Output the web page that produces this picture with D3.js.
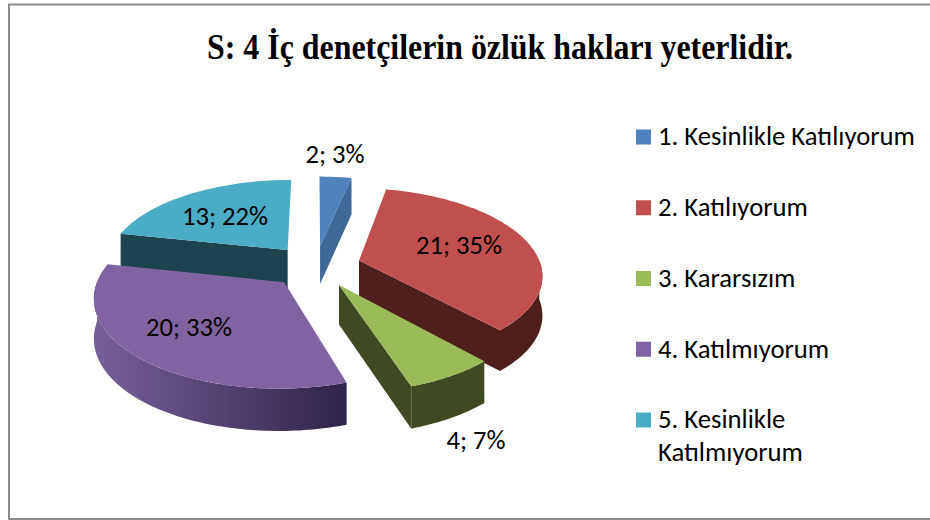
<!DOCTYPE html>
<html><head><meta charset="utf-8">
<script src="https://cdn.jsdelivr.net/npm/d3@7/dist/d3.min.js"></script>
<style>html,body{margin:0;padding:0;background:#fff}svg{display:block}</style>
</head><body><svg id="c" width="930" height="520"></svg>
<script>
const titleText = "S: 4 İç denetçilerin özlük hakları yeterlidir.";
const categories = ["1. Kesinlikle Katılıyorum","2. Katılıyorum","3. Kararsızım","4. Katılmıyorum","5. Kesinlikle Katılmıyorum"];
const values = [2,21,4,20,13];
const percents = [3,35,7,33,22];
const topColors = ["#4f81bd","#c0504d","#9bbb59","#8064a2","#4bacc6"];
const wallLight = ["#3f6997","#4f1f1e","#404a22","#76609a","#1e4350"];
const wallDark  = ["#3f6997","#4f1f1e","#404a22","#30244a","#1e4350"];

const svg = d3.select("#c");
const color = d3.scaleOrdinal().domain(categories).range(topColors);
svg.append("rect").attr("x",9).attr("y",4.5).attr("width",940).attr("height",514.5)
   .attr("fill","#fff").attr("stroke","#8a8a8a").attr("stroke-width",2);
svg.append("text").attr("x",500).attr("y",59).attr("text-anchor","middle")
   .attr("font-family","Liberation Serif").attr("font-weight","bold").attr("font-size",36)
   .attr("textLength",586).attr("lengthAdjust","spacingAndGlyphs").text(titleText);

// projection of the tilted disc
const cx=315.5, cy=266, R=182, r=85, k=0.15, ex=0.25, depth=39;
function proj(X,Z,h){
  const s=1/(1-k*Z);
  return [cx+R*X*s, cy+r*Z*s+h*depth*(1+(s-1)*0.4)];
}
const pie = d3.pie().sort(null).value(d=>d);
const arcs = pie(values);
const line = d3.line();
const defs = svg.append("defs");

function sampled(a0,a1,ox,oz,h){
  const n=Math.max(2,Math.ceil(Math.abs(a1-a0)/0.02));
  return d3.range(n+1).map(i=>{const t=a0+(a1-a0)*i/n;return proj(ox+Math.sin(t),oz-Math.cos(t),h);});
}
const order=[0,4,1,3,2];
order.forEach(i=>{
  const a=arcs[i], mid=(a.startAngle+a.endAngle)/2;
  const ox=ex*Math.sin(mid), oz=-ex*Math.cos(mid);
  const g=svg.append("g").attr("class","slice");
  const apexT=proj(ox,oz,0), apexB=proj(ox,oz,1);
  const edge=(t)=>[apexT,proj(ox+Math.sin(t),oz-Math.cos(t),0),proj(ox+Math.sin(t),oz-Math.cos(t),1),apexB];
  if(Math.sin(a.startAngle)<0) g.append("path").attr("d",line(edge(a.startAngle))+"Z").attr("fill",wallDark[i]);
  if(Math.sin(a.endAngle)>0) g.append("path").attr("d",line(edge(a.endAngle))+"Z").attr("fill",wallDark[i]);
  const w0=Math.max(a.startAngle,Math.PI/2), w1=Math.min(a.endAngle,Math.PI*1.5);
  if(w1>w0){
    const top=sampled(w0,w1,ox,oz,0), bot=sampled(w0,w1,ox,oz,1).reverse();
    const pts=top.concat(bot), ext=d3.extent(pts,p=>p[0]);
    const id="w"+i;
    const gr=defs.append("linearGradient").attr("id",id).attr("gradientUnits","userSpaceOnUse")
      .attr("x1",ext[0]).attr("x2",ext[1]).attr("y1",0).attr("y2",0);
    gr.append("stop").attr("offset",0).attr("stop-color",wallLight[i]);
    gr.append("stop").attr("offset",1).attr("stop-color",wallDark[i]);
    g.append("path").attr("d",line(pts)+"Z").attr("fill",`url(#${id})`);
  }
  const topPts=[apexT].concat(sampled(a.startAngle,a.endAngle,ox,oz,0));
  g.append("path").attr("d",line(topPts)+"Z").attr("fill",color(categories[i]));
});

// data labels
const labelPos=[[335,157],[459,248],[476,443],[189,330],[225,219]];
values.forEach((v,i)=>{
  svg.append("text").attr("x",labelPos[i][0]).attr("y",labelPos[i][1]).attr("text-anchor","middle")
   .attr("dominant-baseline","middle").attr("font-family","Carlito, Lato").attr("font-size",26.6)
   .attr("fill","#000").text(`${v}; ${percents[i]}%`);
});

// legend
const legendY=d3.scalePoint().domain(categories).range([137,420]);
categories.forEach((c,i)=>{
  const y=legendY(c);
  svg.append("rect").attr("x",636).attr("y",y-7.5).attr("width",15).attr("height",15).attr("fill",color(c));
  const parts = i===4 ? ["5. Kesinlikle","Katılmıyorum"] : [c];
  parts.forEach((p,j)=>{
    svg.append("text").attr("x",658).attr("y",y+2+j*33).attr("dominant-baseline","middle")
      .attr("font-family","Carlito, Lato").attr("font-size",26.7).attr("fill","#000").text(p);
  });
});
</script></body></html>
